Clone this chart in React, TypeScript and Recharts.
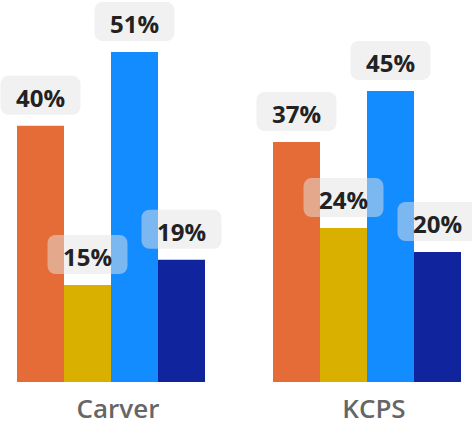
import { BarChart, Bar, XAxis, YAxis } from "recharts";

const schools = ["Carver", "KCPS"];
const seriesA = [39.6, 37.1];
const seriesB = [15, 23.8];
const seriesC = [51, 45];
const seriesD = [18.9, 20.1];

const keys = ["a", "b", "c", "d"];
const colors = ["#E56C37", "#D9B000", "#128CFF", "#10249E"];

const data = schools.map((name, i) => ({
  name,
  a: seriesA[i],
  b: seriesB[i],
  c: seriesC[i],
  d: seriesD[i],
}));

const font = "'Open Sans', 'Noto Sans', sans-serif";

function ValueLabel(props: any) {
  const { x, y, width, value } = props;
  const cx = x + width / 2;
  const top = y - 50;
  return (
    <g>
      <rect x={cx - 40} y={top} width={80} height={39} rx={8} fill="#e4e4e4" fillOpacity={0.5} />
      <text
        x={cx}
        y={top + 31}
        textAnchor="middle"
        fontFamily={font}
        fontWeight={700}
        fontSize={24}
        fill="#222222"
      >
        {Math.round(value)}%
      </text>
    </g>
  );
}

function SchoolTick(props: any) {
  const { x, payload } = props;
  return (
    <text x={x + 8} y={418} textAnchor="middle" fontFamily={font} fontWeight={600} fontSize={26} fill="#666666">
      {payload.value}
    </text>
  );
}

export default function App() {
  return (
    <div style={{ position: "absolute", left: 0, top: 0, width: 472, height: 426, overflow: "hidden", background: "#fff" }}>
      <div style={{ position: "absolute", left: -18, top: 0 }}>
        <BarChart
          width={512}
          height={426}
          data={data}
          margin={{ top: 12, right: 0, left: 0, bottom: 0 }}
          barCategoryGap={35}
          barGap={0}
        >
          <XAxis dataKey="name" axisLine={false} tickLine={false} height={44} tick={<SchoolTick />} interval={0} />
          <YAxis hide domain={[0, 57.2]} />
          {keys.map((k, i) => (
            <Bar key={k} dataKey={k} fill={colors[i]} isAnimationActive={false} label={<ValueLabel />} />
          ))}
        </BarChart>
      </div>
    </div>
  );
}
